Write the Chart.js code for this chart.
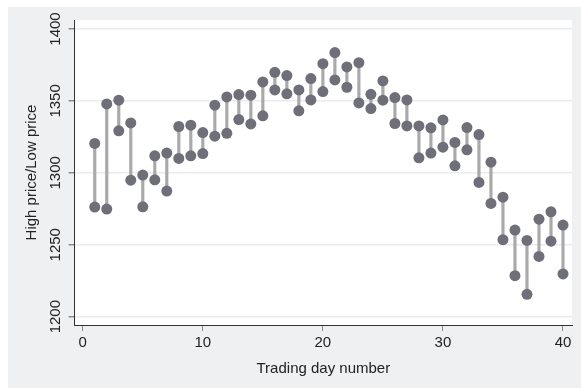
<!DOCTYPE html>
<html>
<head>
<meta charset="utf-8">
<script src="https://cdn.jsdelivr.net/npm/chart.js@4"></script>
<style>
  html, body { margin: 0; padding: 0; background: #ffffff; }
  #wrap { position: absolute; left: 8px; top: 7px; width: 573px; height: 381px; background: #eff0f2; }
</style>
</head>
<body>
<div id="wrap"><canvas id="grafico" width="573" height="381"></canvas></div>
<script>
const dias = [1,2,3,4,5,6,7,8,9,10,11,12,13,14,15,16,17,18,19,20,21,22,23,24,25,26,27,28,29,30,31,32,33,34,35,36,37,38,39,40];
const precoAlto = [1320.4, 1347.9, 1350.5, 1334.7, 1298.4, 1311.8, 1313.7, 1332.2, 1333.1, 1328.0,
                   1347.0, 1352.8, 1354.4, 1354.0, 1363.2, 1369.9, 1367.6, 1357.6, 1365.5, 1375.9,
                   1383.6, 1373.6, 1376.6, 1354.6, 1363.9, 1352.3, 1350.7, 1332.6, 1331.3, 1336.8,
                   1321.1, 1331.5, 1326.6, 1307.4, 1283.1, 1260.2, 1253.0, 1267.8, 1272.9, 1263.7];
const precoBaixo = [1276.2, 1274.8, 1329.2, 1294.9, 1276.4, 1295.1, 1287.3, 1310.0, 1311.8, 1313.4,
                    1325.5, 1327.5, 1337.0, 1334.0, 1339.6, 1357.6, 1354.9, 1343.1, 1350.7, 1356.5,
                    1364.6, 1359.5, 1348.6, 1344.7, 1350.5, 1334.3, 1332.6, 1310.4, 1313.7, 1317.8,
                    1304.9, 1316.0, 1293.3, 1278.7, 1253.5, 1228.5, 1215.5, 1241.9, 1252.5, 1229.7];
const ticksX = [0, 10, 20, 30, 40];
const ticksY = [1200, 1250, 1300, 1350, 1400];

const fonte = 'Liberation Sans, Arial, Helvetica, sans-serif';
const corTexto = '#222';

// rotulos do eixo y girados, como no Stata
const rotulosY = {
  id: 'rotulosY',
  afterDraw(chart) {
    const ctx = chart.ctx;
    const y = chart.scales.y;
    ctx.save();
    ctx.fillStyle = corTexto;
    ctx.font = '15px ' + fonte;
    ctx.textAlign = 'center';
    ctx.textBaseline = 'middle';
    ticksY.forEach(v => {
      ctx.save();
      ctx.translate(48, y.getPixelForValue(v));
      ctx.rotate(-Math.PI / 2);
      ctx.fillText(String(v), 0, 0);
      ctx.restore();
    });
    ctx.translate(24, (chart.chartArea.top + chart.chartArea.bottom) / 2);
    ctx.rotate(-Math.PI / 2);
    ctx.fillText('High price/Low price', 0, 0);
    ctx.restore();
  }
};

const fundoArea = {
  id: 'fundoArea',
  beforeDraw(chart) {
    const a = chart.chartArea;
    chart.ctx.save();
    chart.ctx.fillStyle = '#ffffff';
    chart.ctx.fillRect(a.left, a.top, a.right - a.left, a.bottom - a.top);
    chart.ctx.restore();
  }
};

new Chart(document.getElementById('grafico'), {
  type: 'scatter',
  data: {
    datasets: [
      {
        type: 'bar',
        order: 2,
        data: dias.map((d, i) => ({ x: d, y: [precoBaixo[i], precoAlto[i]] })),
        backgroundColor: '#a9a9ab',
        barThickness: 2.5,
        borderWidth: 0
      },
      {
        order: 1,
        data: dias.map((d, i) => ({ x: d, y: precoAlto[i] })),
        backgroundColor: '#6e6f78',
        pointRadius: 5.5,
        pointBorderWidth: 0
      },
      {
        order: 1,
        data: dias.map((d, i) => ({ x: d, y: precoBaixo[i] })),
        backgroundColor: '#6e6f78',
        pointRadius: 5.5,
        pointBorderWidth: 0
      }
    ]
  },
  options: {
    responsive: false,
    animation: false,
    layout: { padding: { left: 0, right: 9, top: 13, bottom: 0 } },
    plugins: { legend: { display: false }, tooltip: { enabled: false } },
    scales: {
      x: {
        type: 'linear',
        offset: false,
        min: -0.67,
        max: 40.75,
        afterBuildTicks: s => { s.ticks = ticksX.map(v => ({ value: v })); },
        afterFit: s => { s.height = 63; },
        grid: { display: true, drawOnChartArea: false, drawTicks: true, tickLength: 6, tickColor: '#8a8a8a', offset: false },
        border: { color: '#333', width: 1 },
        ticks: { color: corTexto, font: { family: fonte, size: 15 }, padding: 3, maxRotation: 0 },
        title: { display: true, text: 'Trading day number', color: corTexto, font: { family: fonte, size: 15 }, padding: { top: 4, bottom: 10 } }
      },
      y: {
        min: 1194.2,
        max: 1406.25,
        afterBuildTicks: s => { s.ticks = ticksY.map(v => ({ value: v })); },
        afterFit: s => { s.width = 66.7; },
        grid: { color: '#ebebeb', lineWidth: 1.5, drawTicks: true, tickLength: 6, tickColor: '#8a8a8a' },
        border: { color: '#333', width: 1 },
        ticks: { display: false }
      }
    }
  },
  plugins: [fundoArea, rotulosY]
});
</script>
</body>
</html>
